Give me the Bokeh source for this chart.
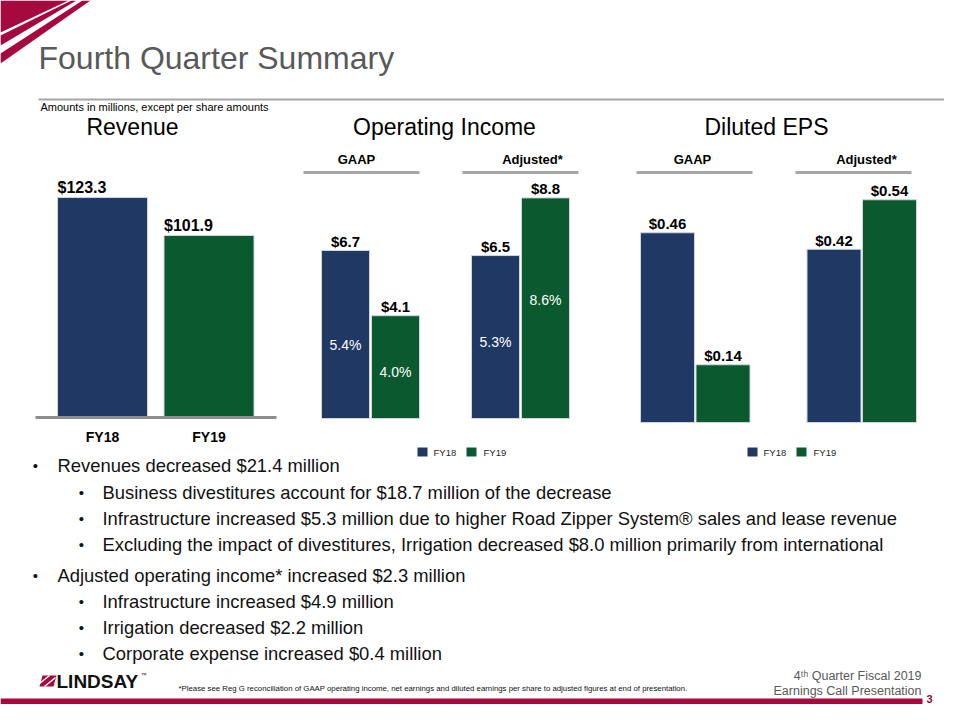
from bokeh.plotting import figure
from bokeh.models import Range1d, ColumnDataSource
from bokeh.core.properties import value
from bokeh.embed import file_html
from bokeh.resources import INLINE

# ---------------- data ----------------
series = ["FY18", "FY19"]

rev_categories = ["FY18", "FY19"]
rev_values = [123.3, 101.9]

oi_groups = ["GAAP", "Adjusted*"]
oi_fy18 = [6.7, 6.5]
oi_fy19 = [4.1, 8.8]
oi_margin_fy18 = ["5.4%", "5.3%"]
oi_margin_fy19 = ["4.0%", "8.6%"]

eps_groups = ["GAAP", "Adjusted*"]
eps_fy18 = [0.46, 0.42]
eps_fy19 = [0.14, 0.54]

bullets = [
    (0, "Revenues decreased $21.4 million"),
    (1, "Business divestitures account for $18.7 million of the decrease"),
    (1, "Infrastructure increased $5.3 million due to higher Road Zipper System\u00ae sales and lease revenue"),
    (1, "Excluding the impact of divestitures, Irrigation decreased $8.0 million primarily from international"),
    (0, "Adjusted operating income* increased $2.3 million"),
    (1, "Infrastructure increased $4.9 million"),
    (1, "Irrigation decreased $2.2 million"),
    (1, "Corporate expense increased $0.4 million"),
]

# ---------------- style / layout ----------------
NAVY = "#1F3864"
GREEN = "#0B5A2F"
EDGE = "#D0D5DC"
RED = "#A6093D"
GRAY_TXT = "#595959"
RULE = "#A6A6A6"
FONT = value("Liberation Sans")

W, H = 944, 704
X0, X1 = 0, W
Y0, Y1 = H, 0

p = figure(width=W, height=H, output_backend="svg", toolbar_location=None,
           x_range=Range1d(X0, X1), y_range=Range1d(Y0, Y1),
           x_axis_location=None, y_axis_location=None, min_border=0)
p.outline_line_color = None
p.xgrid.visible = False
p.ygrid.visible = False
p.background_fill_color = "white"


def xr(p0, step):
    return Range1d(start=(X0 - p0) / step, end=(X1 - p0) / step)


def yr(base, ppu):
    return Range1d(start=(base - Y0) / ppu, end=(base - Y1) / ppu)


REV_STEP, REV_BAR = 106.5, 90
p.extra_x_ranges = {"rev": xr(102, REV_STEP), "oi": xr(345, 50), "eps": xr(667, 55.5)}
p.extra_y_ranges = {"rev": yr(416, 1.776), "oi": yr(418, 25.07), "eps": yr(422, 412.5)}


def txt(x, y, s, size, color="#000000", align="left", style="normal",
        baseline="middle", **kw):
    xs = x if isinstance(x, list) else [x]
    ys = y if isinstance(y, list) else [y]
    ss = s if isinstance(s, list) else [s]
    p.text(x=xs, y=ys, text=ss, text_font=FONT, text_font_size=f"{size}px",
           text_color=color, text_align=align, text_font_style=style,
           text_baseline=baseline, **kw)


# ---------------- decorations ----------------
p.patches(xs=[[0, 68, 0], [71, 76, 0, 0], [82, 90, 0, 0]],
          ys=[[0, 0, 32], [0, 0, 45, 35], [0, 0, 63, 53]],
          fill_color=RED, line_color=None)
txt(38, 57, "Fourth Quarter Summary", 32, GRAY_TXT)
p.segment(x0=[38], y0=[99], x1=[950], y1=[99], line_color=RULE, line_width=2)
txt(40, 106, "Amounts in millions, except per share amounts", 11)

txt(132, 126, "Revenue", 23, align="center")
txt(444, 126, "Operating Income", 23, align="center")
txt(766, 126, "Diluted EPS", 23, align="center")

# sub headers
sub_centers = [356, 532, 692, 866]
sub_lines = [(303, 419), (462, 578), (636, 752), (795, 911)]
txt(sub_centers, [159] * 4, oi_groups + eps_groups, 13, align="center", style="bold")
p.segment(x0=[a for a, b in sub_lines], x1=[b for a, b in sub_lines],
          y0=[172] * 4, y1=[172] * 4, line_color=RULE, line_width=3)

# ---------------- revenue ----------------
rev_x = list(range(len(rev_categories)))
src = ColumnDataSource(dict(x=rev_x, top=rev_values, c=[NAVY, GREEN],
                            lab=[f"${v:.1f}" for v in rev_values]))
p.vbar(x="x", top="top", bottom=0, width=REV_BAR / REV_STEP, fill_color="c",
       line_color=EDGE, line_width=1, source=src,
       x_range_name="rev", y_range_name="rev")
p.text(x="x", y="top", text="lab", source=src, text_font=FONT,
       text_font_size="16px", text_font_style="bold", text_align="left",
       text_baseline="middle", x_offset=-REV_BAR / 2, y_offset=-10,
       x_range_name="rev", y_range_name="rev")
p.segment(x0=[35], y0=[417], x1=[276], y1=[417], line_color="#8C8C8C", line_width=3)
p.text(x=rev_x, y=[436] * len(rev_x), text=rev_categories, text_font=FONT,
       text_font_size="14px", text_font_style="bold", text_align="center",
       text_baseline="middle", x_range_name="rev")


# ---------------- grouped charts ----------------
def grouped(name, v18, v19, fmt, width):
    ng = len(v18)
    for s_i, (vals, col) in enumerate([(v18, NAVY), (v19, GREEN)]):
        xs = [g * 3 + s_i for g in range(ng)]
        sr = ColumnDataSource(dict(x=xs, top=vals, lab=[fmt.format(v) for v in vals]))
        p.vbar(x="x", top="top", bottom=0, width=width, fill_color=col,
               line_color=EDGE, line_width=1, source=sr,
               x_range_name=name, y_range_name=name)
        p.text(x="x", y="top", text="lab", source=sr, text_font=FONT,
               text_font_size="15px", text_font_style="bold", text_align="center",
               text_baseline="middle", y_offset=-9,
               x_range_name=name, y_range_name=name)


grouped("oi", oi_fy18, oi_fy19, "${:.1f}", 48 / 50)
grouped("eps", eps_fy18, eps_fy19, "${:.2f}", 54 / 55.5)

# margin labels inside operating income bars
frac18 = [0.44, 0.472]
frac19 = [0.457, 0.539]
p.text(x=[g * 3 for g in range(2)], y=[v * f for v, f in zip(oi_fy18, frac18)],
       text=oi_margin_fy18, text_font=FONT, text_font_size="14px",
       text_color="white", text_align="center", text_baseline="middle",
       x_range_name="oi", y_range_name="oi")
p.text(x=[g * 3 + 1 for g in range(2)], y=[v * f for v, f in zip(oi_fy19, frac19)],
       text=oi_margin_fy19, text_font=FONT, text_font_size="14px",
       text_color="white", text_align="center", text_baseline="middle",
       x_range_name="oi", y_range_name="oi")

# legends
for sq18, t18, sq19, t19 in [(417, 433, 466, 483), (747, 763, 796, 813)]:
    p.quad(left=[sq18, sq19], right=[sq18 + 10, sq19 + 10], top=[447, 447],
           bottom=[456, 456], fill_color=[NAVY, GREEN], line_color=None)
    txt([t18, t19], [452, 452], series, 9.5, "#262626")

# ---------------- bullets ----------------
bullet_y = [465, 491.5, 518, 544, 575, 601, 627, 653]
for (lvl, s), y in zip(bullets, bullet_y):
    bx = 35 if lvl == 0 else 81
    tx = 57 if lvl == 0 else 102
    txt(bx, y, "\u2022", 15, "#111111", align="center")
    txt(tx, y, s, 18.4, "#111111")

# ---------------- footer ----------------
p.patches(xs=[[42, 56, 53, 39]], ys=[[675, 675, 686, 686]], fill_color=RED, line_color=None)
p.segment(x0=[39, 44], y0=[683, 686], x1=[49, 55], y1=[675, 677],
          line_color="white", line_width=1.5)
txt(56, 681, "LINDSAY", 19, "#111111", style="bold")
txt(140, 674, "\u2122", 6, "#111111")
txt(178, 688, "*Please see Reg G reconciliation of GAAP operating income, net earnings and diluted earnings per share to adjusted figures at end of presentation.", 7.8, "#111111")
txt(921, 675, "4\u1d57\u02b0 Quarter Fiscal 2019", 12.5, GRAY_TXT, align="right")
txt(921, 690, "Earnings Call Presentation", 12.5, GRAY_TXT, align="right")
p.quad(left=[0], right=[922], top=[698], bottom=[704], fill_color=RED, line_color=None)
txt(929, 698, "3", 11, "#8B0A30", align="center", style="bold")

open("out.html", "w").write(file_html(p, INLINE))
